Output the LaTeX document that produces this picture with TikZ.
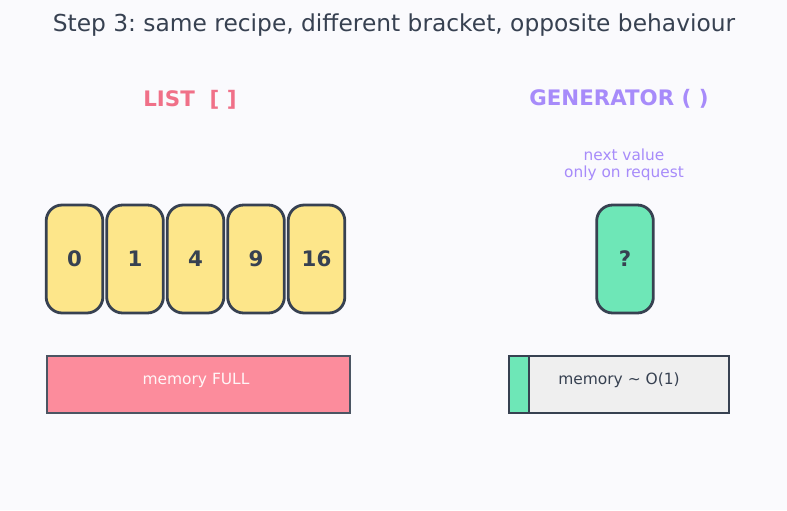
\documentclass[tikz,border=0pt]{standalone}
\usepackage{fontspec}
\setmainfont{DejaVu Sans}
\usetikzlibrary{positioning}
\definecolor{ink}{HTML}{374151}
\definecolor{bgpaper}{HTML}{FAFAFD}
\definecolor{listred}{HTML}{F07088}
\definecolor{genpurple}{HTML}{A78BFA}
\definecolor{cellyellow}{HTML}{FDE68A}
\definecolor{cellgreen}{HTML}{6EE7B7}
\definecolor{fullpink}{HTML}{FC8C9C}
\definecolor{lightgray}{HTML}{EFEFEF}
\definecolor{framegray}{HTML}{4B5563}
\frenchspacing

\begin{document}
\begin{tikzpicture}[x=0.75pt, y=-0.75pt,
  cell/.style={draw=ink, line width=2.1pt, rounded corners=12pt, minimum width=42.5pt,
    minimum height=81pt, inner sep=0pt, text=ink, font=\bfseries\fontsize{16}{19}\selectfont},
  heading/.style={font=\bfseries\fontsize{16}{19}\selectfont},
  memtext/.style={font=\fontsize{11.6}{13}\selectfont}]
  \useasboundingbox (0,0) rectangle (787,510);
  \fill[bgpaper] (0,0) rectangle (787,510);
  % title
  \node[text=ink, font=\fontsize{17.5}{21}\selectfont] (title) at (394,25) {Step 3: same recipe, different bracket, opposite behaviour};
  % column headings
  \node[heading, text=listred] (listhead) at (190,100) {LIST\ \ [ ]};
  \node[heading, text=genpurple] (genhead) at (619,99) {GENERATOR ( )};
  \node[text=genpurple, align=center, font=\fontsize{11.5}{13}\selectfont] (gennote) at (624,165) {next value\\only on request};
  % list cells
  \foreach \v [count=\i] in {0,1,4,9,16}
    \node[cell, fill=cellyellow] (c\i) at ({74.5+60.5*(\i-1)},259) {\v};
  % generator cell
  \node[cell, fill=cellgreen] (q) at (625,259) {?};
  % memory bars
  \draw[fill=fullpink, draw=framegray, line width=1.1pt] (47,356) rectangle (350,413);
  \node[memtext, text=white!92!fullpink] (full) at (196,380) {memory FULL};
  \fill[lightgray] (509,356) rectangle (729,413);
  \fill[cellgreen] (509,356) rectangle (529,413);
  \draw[ink, line width=1.1pt] (509,356) rectangle (729,413) (529,356) -- (529,413);
  \node[memtext, text=ink] (small) at (619,380) {memory \char`~\ O(1)};
\end{tikzpicture}
\end{document}
